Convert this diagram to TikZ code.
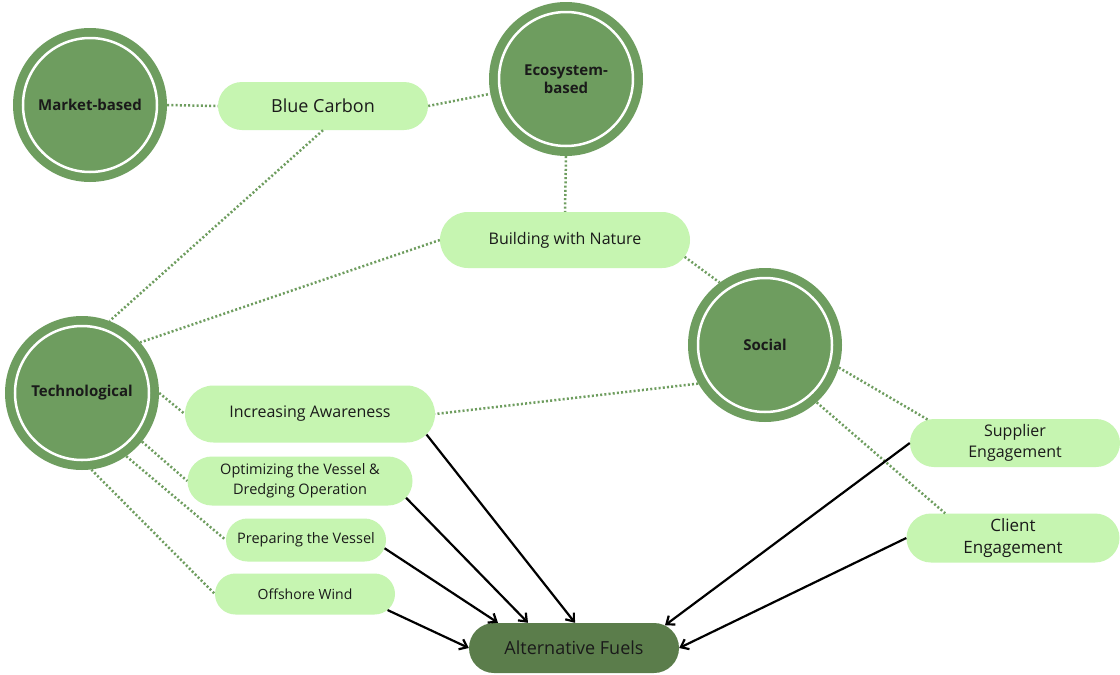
\documentclass[tikz,border=0pt]{standalone}
\usepackage{fontspec}
\setmainfont{Open Sans}
\usetikzlibrary{shapes.misc,arrows.meta}
\definecolor{cgreen}{HTML}{6E9D5F}
\definecolor{lgreen}{HTML}{C6F5B1}
\definecolor{dgreen}{HTML}{5B7D4B}
\definecolor{ink}{HTML}{1A1A1A}
\begin{document}
\begin{tikzpicture}[x=1pt,y=-1pt,
  cat/.style={circle,fill=cgreen,minimum size=154pt,inner sep=0pt,align=center,text=ink,font=\fontsize{15}{18}\selectfont\bfseries},
  leaf/.style={rounded rectangle,fill=lgreen,inner sep=0pt,align=center,text=ink},
  goal/.style={rounded rectangle,fill=dgreen,inner sep=0pt,minimum width=210pt,minimum height=50pt,text=ink,font=\fontsize{18}{20}\selectfont},
  ring/.style={draw=white,line width=2.5pt},
  dotline/.style={draw=cgreen,line width=2.5pt,dash pattern=on 2pt off 2.2pt},
  arr/.style={draw=black,line width=2.2pt,-{Straight Barb[length=7pt,width=11pt]}}
]
\useasboundingbox[fill=white] (0,0) rectangle (1120,675);

% category circles
\node[cat] (mb) at (90,105) {Market-based};
\node[cat] (eco) at (566,79) {Ecosystem-\\based};
\node[cat] (soc) at (765,345) {Social};
\node[cat] (tech) at (82,393) {Technological};
\foreach \n in {mb,eco,soc,tech} \draw[ring] (\n) circle[radius=67];

% leaves
\node[leaf,minimum width=210pt,minimum height=48pt,font=\fontsize{18}{20}\selectfont] (bc) at (323,106) {Blue Carbon};
\node[leaf,minimum width=250pt,minimum height=56pt,font=\fontsize{16}{19}\selectfont] (bwn) at (565,240) {Building with Nature};
\node[leaf,minimum width=250pt,minimum height=57pt,font=\fontsize{16}{19}\selectfont] (ia) at (310,414) {Increasing Awareness};
\node[leaf,minimum width=225pt,minimum height=49pt,font=\fontsize{14.5}{20}\selectfont] (opt) at (300,481) {Optimizing the Vessel \&\\Dredging Operation};
\node[leaf,minimum width=160pt,minimum height=43pt,font=\fontsize{14.5}{17}\selectfont] (prep) at (306,540) {Preparing the Vessel};
\node[leaf,minimum width=180pt,minimum height=41pt,font=\fontsize{14}{17}\selectfont] (ow) at (305,594) {Offshore Wind};
\node[leaf,minimum width=210pt,minimum height=48pt,font=\fontsize{16}{21}\selectfont] (sup) at (1015,443) {Supplier\\Engagement};
\node[leaf,minimum width=213pt,minimum height=49pt,font=\fontsize{17}{22}\selectfont] (cl) at (1013,538) {Client\\Engagement};
\node[goal] (af) at (574,648) {Alternative Fuels};

% dotted links
\draw[dotline] (mb.east) -- (bc.west);
\draw[dotline] (bc.east) -- (eco);
\draw[dotline] (bc.south) -- (tech.69);
\draw[dotline] (eco.south) -- (bwn.north);
\draw[dotline] (bwn.-8) -- (soc.126);
\draw[dotline] (bwn.west) -- (tech.41);
\draw[dotline] (soc.210) -- (ia.east);
\draw[dotline] (tech.east) -- (ia.west);
\draw[dotline] (tech.-39) -- (opt.west);
\draw[dotline] (tech.-55) -- (prep.west);
\draw[dotline] (tech.-83) -- (ow.west);
\draw[dotline] (soc.-17) -- (sup.165);
\draw[dotline] (soc.-48) -- (cl.160);

% arrows
\draw[arr] (ia.-10) -- ([xshift=1pt]af.north);
\draw[arr] (opt.-9) -- ([xshift=-46pt]af.north);
\draw[arr] (prep.-6) -- ([xshift=-76pt]af.north);
\draw[arr] (ow.-11) -- (af.west);
\draw[arr] (sup.west) -- (af.14);
\draw[arr] (cl.west) -- (af.east);
\end{tikzpicture}
\end{document}
